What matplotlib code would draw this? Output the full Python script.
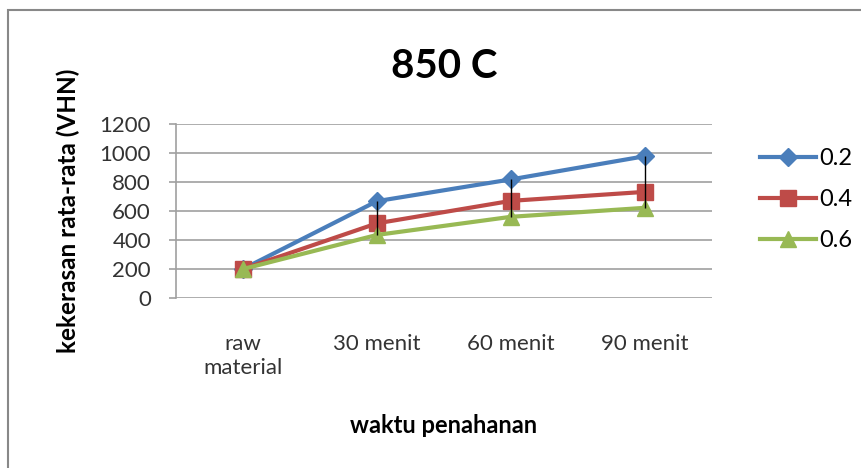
import numpy as np
import matplotlib
matplotlib.use("Agg")
import matplotlib.pyplot as plt
from matplotlib.patches import Rectangle

plt.rcParams['font.family'] = ['Lato', 'DejaVu Sans']

categories = ['raw\nmaterial', '30 menit', '60 menit', '90 menit']
series_names = ['0.2', '0.4', '0.6']
vals_02 = [200, 668, 818, 978]
vals_04 = [200, 515, 670, 732]
vals_06 = [200, 435, 560, 622]
y_ticks = [0, 200, 400, 600, 800, 1000, 1200]

colors = ['#4A7EBB', '#BE4B48', '#98B954']
markers = ['D', 's', '^']
msizes = [9, 11, 11]

fig = plt.figure(figsize=(8.62, 4.68), dpi=100)
# chart area border (runs off the right and bottom edge)
fig.patches.append(Rectangle((8/862, -0.05), 1.05, 1.05 - 10/468, transform=fig.transFigure,
                             fill=False, edgecolor='#888888', linewidth=1.5))

ax = fig.add_axes([176/862, 1 - 298/468, (712-176)/862, (298-124)/468])
x = np.arange(len(categories))

data = [vals_02, vals_04, vals_06]
hi = np.max(data, axis=0)
lo = np.min(data, axis=0)
ax.vlines(x, lo, hi, color='black', linewidth=1.0, zorder=4)

for name, v, c, m, ms in zip(series_names, data, colors, markers, msizes):
    ax.plot(x, v, color=c, linewidth=3, marker=m, markersize=ms, label=name, zorder=3)

ax.set_xlim(-0.5, len(categories) - 0.5)
ax.set_ylim(0, 1200)
ax.set_yticks(y_ticks)
ax.set_xticks(x)
ax.set_xticklabels(categories, fontsize=16, color='#333333', linespacing=1.25)
ax.tick_params(axis='y', labelsize=16, labelcolor='#333333', color='#A0A0A0',
               length=5, width=1.2, pad=13)
ax.tick_params(axis='x', length=0, pad=26)
ax.grid(axis='y', color='#A0A0A0', linewidth=1.2)
ax.set_axisbelow(True)
for s in ['top', 'right', 'bottom']:
    ax.spines[s].set_visible(False)
ax.spines['left'].set_color('#A0A0A0')
ax.spines['left'].set_linewidth(1.2)

ax.set_ylabel('kekerasan rata-rata (VHN)', fontsize=17.5, fontweight='bold', labelpad=14)
ax.set_xlabel('waktu penahanan', fontsize=17, fontweight='bold', labelpad=26)
fig.text(444/862, 1 - 66/468, '850 C', fontsize=29, fontweight='bold', ha='center', va='center')

ax.legend(loc='upper left', bbox_to_anchor=(748/862, 1 - 136/468), bbox_transform=fig.transFigure,
          frameon=False, fontsize=17, handlelength=2.4, labelspacing=0.85, handletextpad=0.1,
          borderpad=0)

fig.savefig('out.png', dpi=100)
